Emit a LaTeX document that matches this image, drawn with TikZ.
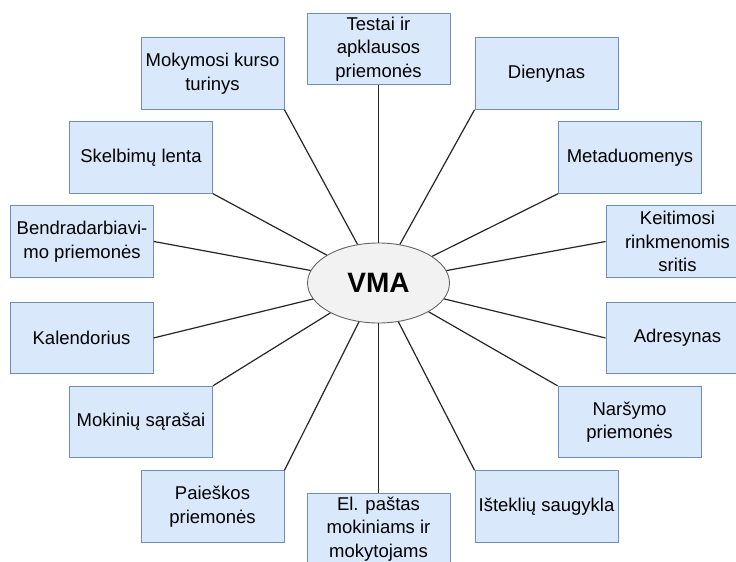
\documentclass[tikz,border=0pt]{standalone}
\usepackage{fontspec}
\setmainfont{Liberation Sans}
\usetikzlibrary{shapes.geometric}
\definecolor{boxfill}{HTML}{DAE8FC}
\definecolor{boxline}{HTML}{6C8EBF}
\definecolor{hubfill}{HTML}{F2F2F2}
\definecolor{hubline}{HTML}{666666}
\definecolor{linkcol}{HTML}{262626}
\tikzset{
  part/.style={draw=boxline, fill=boxfill, line width=0.9pt, rectangle,
    minimum width=143pt, minimum height=71.5pt, inner sep=0pt, align=center,
    font=\fontsize{18.5}{23.5}\selectfont},
  hub/.style={draw=hubline, fill=hubfill, line width=0.9pt, ellipse,
    minimum width=142pt, minimum height=80pt, inner sep=0pt,
    font=\fontsize{28}{30}\selectfont\bfseries},
  link/.style={draw=linkcol, line width=1.2pt}
}
\begin{document}
\begin{tikzpicture}[x=1pt, y=-1pt]
\useasboundingbox (0,0) rectangle (736,562);
\clip (0,0) rectangle (736,562);
\fill[white] (0,0) rectangle (736,562);

\node[hub] (vma) at (378.5,283) {VMA};

\node[part] (testai) at (378.5,49)    {Testai ir\\apklausos\\priemonės};
\node[part] (kursas) at (212.5,73.5) {Mokymosi kurso\\turinys};
\node[part] (dien)   at (546.5,73.5) {Dienynas};
\node[part] (skelb)  at (141,157.5)  {Skelbimų lenta};
\node[part] (meta)   at (630,157.5)  {Metaduomenys};
\node[part] (bendr)  at (82,241.5)   {Bendradarbiavi-\\mo priemonės};
\node[part] (keit)   at (677.5,241.5) {Keitimosi\\rinkmenomis\\sritis};
\node[part] (kal)    at (81.5,338)   {Kalendorius};
\node[part] (adr)    at (677.5,338)  {Adresynas};
\node[part] (mok)    at (141,422)    {Mokinių sąrašai};
\node[part] (nars)   at (629.5,422)  {Naršymo\\priemonės};
\node[part] (paiesk) at (212.5,506.5) {Paieškos\\priemonės};
\node[part] (istekl) at (546.5,506.5) {Išteklių saugykla};
\node[part] (pastas) at (378.5,529)    {El. paštas\\mokiniams ir\\mokytojams};

\begin{scope}[link]
\draw (testai.south) -- (vma);
\draw (kursas.south east) -- (vma);
\draw (dien.south west) -- (vma);
\draw (skelb.south east) -- (vma);
\draw (meta.south west) -- (vma);
\draw (bendr.east) -- (vma);
\draw (keit.west) -- (vma);
\draw (kal.east) -- (vma);
\draw (adr.west) -- (vma);
\draw (mok.north east) -- (vma);
\draw (nars.north west) -- (vma);
\draw (paiesk.north east) -- (vma);
\draw (istekl.north west) -- (vma);
\draw (pastas.north) -- (vma);
\end{scope}
\end{tikzpicture}
\end{document}
